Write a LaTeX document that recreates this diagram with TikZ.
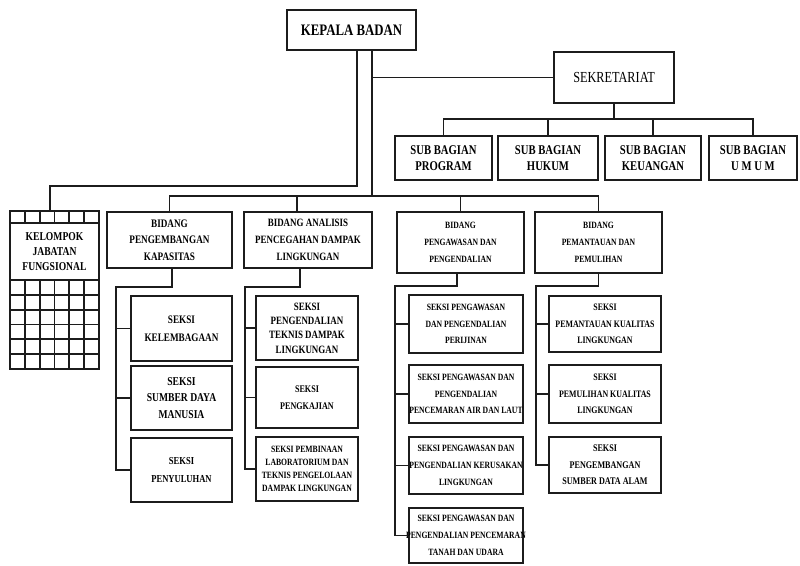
\documentclass[tikz,border=0pt]{standalone}
\usepackage{fontspec}
\setmainfont{Liberation Serif}
\newfontfamily\narrowfont{Liberation Serif}[FakeStretch=0.8]
\definecolor{inkdark}{HTML}{1C1C1C}
\newcommand{\orgfont}[2]{\narrowfont\bfseries\fontsize{#1}{#2}\selectfont}
\newcommand{\sekretext}{\narrowfont\fontsize{11.5}{13}\selectfont}
\tikzset{
  orgbox/.style={draw=inkdark,fill=white,line width=1.3pt,align=center,inner sep=1pt},
  widebox/.style={orgbox,inner xsep=-2.5pt,font={\orgfont{7.2}{12.5}}},
  orgline/.style={draw=inkdark,line width=1.3pt},
}

\begin{document}
\begin{tikzpicture}[x=0.75pt,y=-0.75pt,font={\orgfont{7.2}{12.5}}]
\useasboundingbox (0,0) rectangle (800,565);

% top level
\node[orgbox,minimum width=96.75pt,minimum height=30pt,font={\orgfont{12}{14}}] (kepala) at (351.5,30) {KEPALA BADAN};
\node[orgbox,minimum width=90pt,minimum height=38.25pt,font=\sekretext] (sekre) at (614,77.5) {SEKRETARIAT};

\node[orgbox,minimum width=72.75pt,minimum height=33pt,font={\orgfont{10}{12.5}}] (subprog) at (443.5,158) {SUB BAGIAN\\PROGRAM};
\node[orgbox,minimum width=75pt,minimum height=33pt,font={\orgfont{10}{12.5}}] (subhukum) at (548,158) {SUB BAGIAN\\HUKUM};
\node[orgbox,minimum width=72pt,minimum height=33pt,font={\orgfont{10}{12.5}}] (subkeu) at (653,158) {SUB BAGIAN\\KEUANGAN};
\node[orgbox,minimum width=66pt,minimum height=33pt,font={\orgfont{10}{12.5}}] (subumum) at (753,158) {SUB BAGIAN\\U M U M};

% kelompok jabatan fungsional
\node[orgbox,minimum width=66.75pt,minimum height=118.5pt] (kelompok) at (54.5,290) {};
\node[align=center,inner sep=0pt,font={\orgfont{9}{11.5}}] (kjf) at (54.5,251.5) {KELOMPOK\\JABATAN\\FUNGSIONAL};
\draw[orgline] (10,223) -- (99,223);
\draw[orgline] (10,280) -- (99,280);
\foreach \k in {1,...,5} {
  \draw[orgline] ({10+\k*14.83},211) -- ({10+\k*14.83},223);
  \draw[orgline] ({10+\k*14.83},280) -- ({10+\k*14.83},369);
  \draw[orgline] (10,{280+\k*14.83}) -- (99,{280+\k*14.83});
}

% bidang
\node[orgbox,minimum width=93.75pt,minimum height=42pt,font={\orgfont{8.6}{12.5}}] (bid1) at (169.5,240) {BIDANG\\PENGEMBANGAN\\KAPASITAS};
\node[orgbox,minimum width=96pt,minimum height=42pt,font={\orgfont{8.4}{12.5}}] (bid2) at (308,240) {BIDANG ANALISIS\\PENCEGAHAN DAMPAK\\LINGKUNGAN};
\node[orgbox,minimum width=95.25pt,minimum height=45.75pt] (bid3) at (460.5,242.5) {BIDANG\\PENGAWASAN DAN\\PENGENDALIAN};
\node[orgbox,minimum width=95.25pt,minimum height=45.75pt] (bid4) at (598.5,242.5) {BIDANG\\PEMANTAUAN DAN\\PEMULIHAN};

% seksi
\node[orgbox,minimum width=75.75pt,minimum height=48.75pt,font={\orgfont{8.6}{13.5}}] (s11) at (181.5,328.5) {SEKSI\\KELEMBAGAAN};
\node[orgbox,minimum width=75.75pt,minimum height=48pt,font={\orgfont{9}{12.5}}] (s12) at (181.5,398) {SEKSI\\SUMBER DAYA\\MANUSIA};
\node[orgbox,minimum width=75.75pt,minimum height=48pt,font={\orgfont{8}{14}}] (s13) at (181.5,470) {SEKSI\\PENYULUHAN};

\node[orgbox,minimum width=76.5pt,minimum height=48pt,font={\orgfont{8.4}{10.8}}] (s21) at (307,328) {SEKSI\\PENGENDALIAN\\TEKNIS DAMPAK\\LINGKUNGAN};
\node[orgbox,minimum width=76.5pt,minimum height=45.75pt,font={\orgfont{7.6}{13}}] (s22) at (307,397.5) {SEKSI\\PENGKAJIAN};
\node[orgbox,minimum width=76.5pt,minimum height=48pt,font={\orgfont{7.2}{9.8}}] (s23) at (307,469) {SEKSI PEMBINAAN\\LABORATORIUM DAN\\TEKNIS PENGELOLAAN\\DAMPAK LINGKUNGAN};

\node[widebox,minimum width=85.5pt,minimum height=43.5pt] (s31) at (466,324) {SEKSI PENGAWASAN\\DAN PENGENDALIAN\\PERIJINAN};
\node[widebox,minimum width=85.5pt,minimum height=43.5pt] (s32) at (466,394) {SEKSI PENGAWASAN DAN\\PENGENDALIAN\\PENCEMARAN AIR DAN LAUT};
\node[widebox,minimum width=85.5pt,minimum height=42.75pt] (s33) at (466,465.5) {SEKSI PENGAWASAN DAN\\PENGENDALIAN KERUSAKAN\\LINGKUNGAN};
\node[widebox,minimum width=85.5pt,minimum height=41.25pt] (s34) at (466,535.5) {SEKSI PENGAWASAN DAN\\PENGENDALIAN PENCEMARAN\\TANAH DAN UDARA};

\node[orgbox,minimum width=84pt,minimum height=42pt,font={\orgfont{7.4}{12.5}}] (s41) at (605,324) {SEKSI\\PEMANTAUAN KUALITAS\\LINGKUNGAN};
\node[orgbox,minimum width=84pt,minimum height=43.5pt,font={\orgfont{7.4}{12.5}}] (s42) at (605,394) {SEKSI\\PEMULIHAN KUALITAS\\LINGKUNGAN};
\node[orgbox,minimum width=84pt,minimum height=42pt,font={\orgfont{7.6}{12.5}}] (s43) at (605,465) {SEKSI\\PENGEMBANGAN\\SUMBER DATA ALAM};

% lines from the head
\coordinate (busA) at (357,186);
\coordinate (busB) at (372,196);
\coordinate (subbus) at (614,119);
\draw[orgline] (kepala.south -| busA) -- (busA) -| ([xshift=-3.4pt]kelompok.north);
\draw[orgline] (kepala.south -| busB) -- (busB);
\draw[orgline] (sekre.west) -| (busB);
\draw[orgline] (bid1.north) -- (bid1.north |- busB) -| (bid4.north);
\draw[orgline] ([xshift=-8pt]bid2.north) -- ([xshift=-8pt]bid2.north |- busB);
\draw[orgline] (bid3.north) -- (bid3.north |- busB);

% sekretariat
\draw[orgline] (sekre.south) -- (subbus);
\draw[orgline] (subprog.north) -- (subprog.north |- subbus) -| (subumum.north);
\draw[orgline] (subhukum.north) -- (subhukum.north |- subbus);
\draw[orgline] (subkeu.north) -- (subkeu.north |- subbus);

% rails to seksi
\coordinate (railA) at (116,287);
\coordinate (railB) at (245,287);
\coordinate (railC) at (395,286);
\coordinate (railD) at (536,286);
\draw[orgline] ([xshift=2pt]bid1.south) |- (railA) |- (s13.west);
\draw[orgline] (railA |- s11.west) -- (s11.west);
\draw[orgline] (railA |- s12.west) -- (s12.west);
\draw[orgline] ([xshift=-6pt]bid2.south) |- (railB) |- (s23.west);
\draw[orgline] (railB |- s21.west) -- (s21.west);
\draw[orgline] (railB |- s22.west) -- (s22.west);
\draw[orgline] ([xshift=-2.5pt]bid3.south) |- (railC) |- (s34.west);
\draw[orgline] (railC |- s31.west) -- (s31.west);
\draw[orgline] (railC |- s32.west) -- (s32.west);
\draw[orgline] (railC |- s33.west) -- (s33.west);
\draw[orgline] (bid4.south) |- (railD) |- (s43.west);
\draw[orgline] (railD |- s41.west) -- (s41.west);
\draw[orgline] (railD |- s42.west) -- (s42.west);
\end{tikzpicture}
\end{document}
